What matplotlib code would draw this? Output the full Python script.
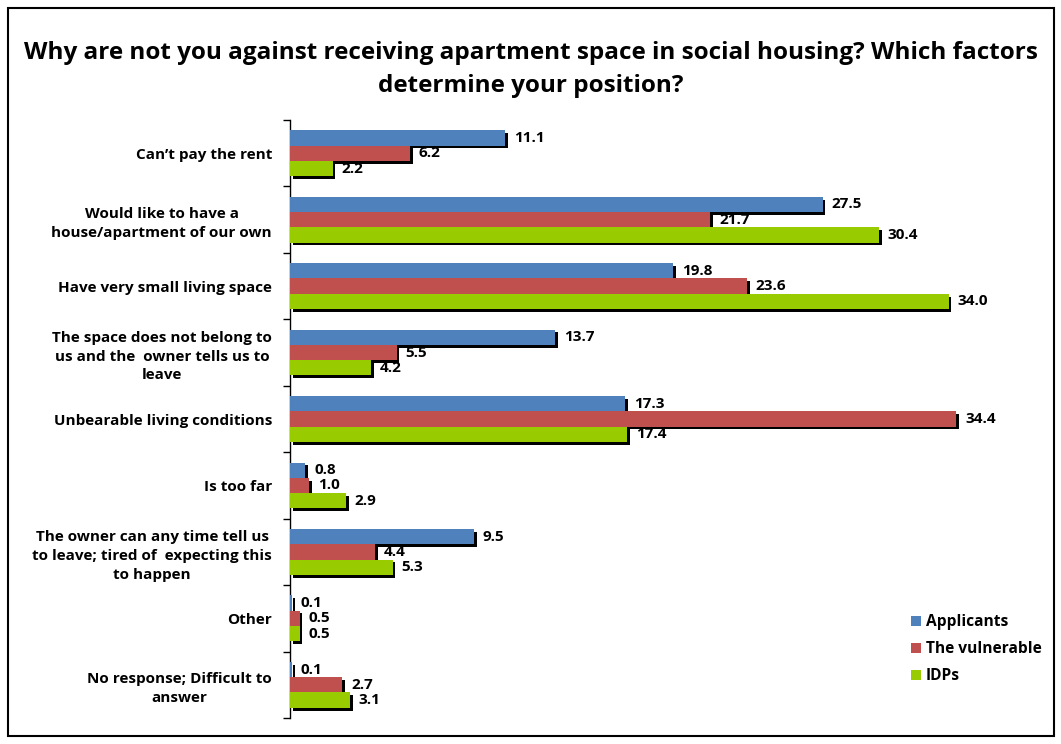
import matplotlib
matplotlib.use('Agg')
import matplotlib.pyplot as plt
import matplotlib.patheffects as pe
from matplotlib.patches import Rectangle
import numpy as np

plt.rcParams['font.family'] = ['Open Sans', 'DejaVu Sans']

categories = [
    "Can\u2019t pay the rent",
    "Would like to have a\nhouse/apartment of our own",
    "Have very small living space",
    "The space does not belong to\nus and the  owner tells us to\nleave",
    "Unbearable living conditions",
    "Is too far",
    "The owner can any time tell us\nto leave; tired of  expecting this\nto happen",
    "Other",
    "No response; Difficult to\nanswer",
]
applicants = [11.1, 27.5, 19.8, 13.7, 17.3, 0.8, 9.5, 0.1, 0.1]
vulnerable = [6.2, 21.7, 23.6, 5.5, 34.4, 1.0, 4.4, 0.5, 2.7]
idps = [2.2, 30.4, 34.0, 4.2, 17.4, 2.9, 5.3, 0.5, 3.1]
series_names = ['Applicants', 'The vulnerable', 'IDPs']
colors = ['#4F81BD', '#C0504D', '#99CC00']

fig = plt.figure(figsize=(10.61, 7.44), dpi=100)
fig.patches.append(Rectangle((0.008, 0.011), 0.985, 0.978, transform=fig.transFigure,
                             fill=False, edgecolor='black', linewidth=1.5))

ax = fig.add_axes([0.2733, 0.0349, 0.7, 0.8038])
n = len(categories)
y = np.arange(n)
h = 0.23
shadow = [pe.SimplePatchShadow(offset=(2, -2), shadow_rgbFace='black', alpha=1), pe.Normal()]

for i, (vals, col, name) in enumerate(zip([applicants, vulnerable, idps], colors, series_names)):
    pos = y + (i - 1) * h
    bars = ax.barh(pos, vals, height=h, color=col, label=name, zorder=3)
    for b in bars:
        b.set_path_effects(shadow)
    for p, v in zip(pos, vals):
        ax.text(v + 0.45, p, f'{v:.1f}', va='center', ha='left', fontsize=11,
                fontweight='bold', zorder=4)

ax.set_xlim(0, 0.7 * 1061 / 19.37)
ax.set_ylim(n - 0.5, -0.5)
ax.set_xticks([])
ax.set_yticks(y)
ax.set_yticklabels(categories, fontsize=11, fontweight='bold', multialignment='center',
                   linespacing=1.45)
ax.tick_params(axis='y', which='major', length=0, pad=13)
ax.set_yticks(np.arange(n + 1) - 0.5, minor=True)
ax.tick_params(axis='y', which='minor', length=5, width=1, direction='out')
for s in ['top', 'right', 'bottom']:
    ax.spines[s].set_visible(False)
ax.spines['left'].set_linewidth(1)

fig.text(0.5, 0.906, 'Why are not you against receiving apartment space in social housing? Which factors\ndetermine your position?',
         ha='center', va='center', fontsize=17.5, fontweight='bold', linespacing=1.5)

leg = ax.legend(loc='upper left', bbox_to_anchor=(0.845, 0.193), bbox_transform=fig.transFigure,
                frameon=False, handlelength=0.65, handleheight=0.65, handletextpad=0.35,
                labelspacing=0.7, prop={'weight': 'bold', 'size': 11.2})
for hnd in leg.legend_handles:
    hnd.set_path_effects([])

fig.savefig('out.png', dpi=100)
